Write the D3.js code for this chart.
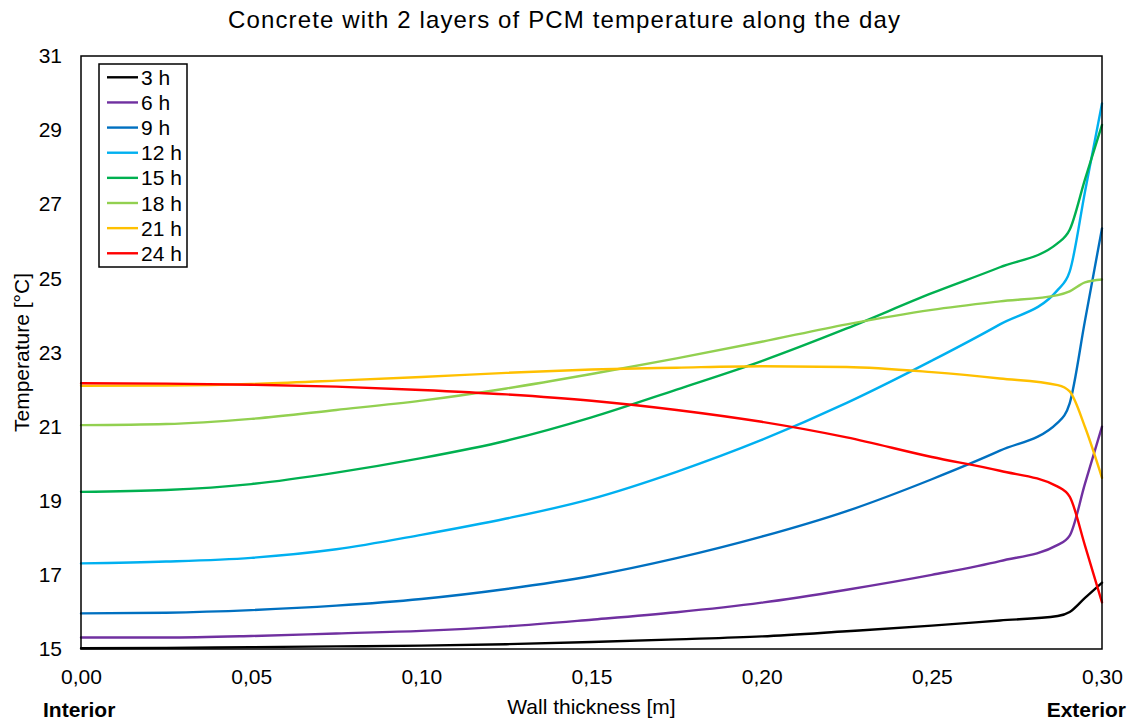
<!DOCTYPE html>
<html>
<head>
<meta charset="utf-8">
<script src="https://cdn.jsdelivr.net/npm/d3@7/dist/d3.min.js"></script>
<style>
  html, body { margin: 0; padding: 0; background: #fff; }
  svg { display: block; font-family: "Liberation Sans", Arial, sans-serif; }
</style>
</head>
<body>
<svg id="chart" width="1134" height="723"></svg>
<script>
// Wall position (m), from the interior face to the exterior face
const thickness = [0, 0.025, 0.05, 0.075, 0.10, 0.125, 0.15, 0.175, 0.20, 0.225, 0.25, 0.27, 0.287, 0.2905, 0.295, 0.30];

// Temperature profiles (°C) at each hour of the day
const t3h  = [15.02, 15.03, 15.05, 15.07, 15.09, 15.13, 15.19, 15.26, 15.34, 15.48, 15.63, 15.77, 15.89, 16.00, 16.38, 16.79];
const t6h  = [15.31, 15.31, 15.35, 15.42, 15.49, 15.61, 15.79, 15.99, 16.25, 16.60, 17.00, 17.37, 17.81, 18.06, 19.46, 21.00];
const t9h  = [15.96, 15.98, 16.05, 16.17, 16.35, 16.62, 16.97, 17.45, 18.03, 18.72, 19.58, 20.35, 21.11, 21.63, 23.86, 26.35];
const t12h = [17.31, 17.36, 17.46, 17.69, 18.08, 18.52, 19.05, 19.78, 20.64, 21.64, 22.78, 23.76, 24.69, 25.18, 27.34, 29.72];
const t15h = [19.24, 19.29, 19.45, 19.76, 20.15, 20.62, 21.25, 22.00, 22.77, 23.65, 24.60, 25.30, 25.95, 26.31, 27.67, 29.14];
const t18h = [21.04, 21.07, 21.21, 21.45, 21.70, 22.03, 22.42, 22.84, 23.29, 23.76, 24.15, 24.38, 24.55, 24.65, 24.89, 24.97];
const t21h = [22.10, 22.11, 22.15, 22.24, 22.34, 22.45, 22.54, 22.59, 22.63, 22.61, 22.47, 22.30, 22.12, 21.95, 20.99, 19.62];
const t24h = [22.17, 22.16, 22.13, 22.08, 21.99, 21.87, 21.70, 21.45, 21.13, 20.71, 20.18, 19.81, 19.38, 19.11, 17.79, 16.26];

const seriesNames  = ["3 h", "6 h", "9 h", "12 h", "15 h", "18 h", "21 h", "24 h"];
const seriesValues = [t3h, t6h, t9h, t12h, t15h, t18h, t21h, t24h];
const seriesColors = ["#000000", "#7030A0", "#0070C0", "#00B0F0", "#00B050", "#92D050", "#FFC000", "#FF0000"];

const xTicks = [0, 0.05, 0.10, 0.15, 0.20, 0.25, 0.30];
const yTicks = [15, 17, 19, 21, 23, 25, 27, 29, 31];

const titleText  = "Concrete with 2 layers of PCM temperature along the day";
const xTitleText = "Wall thickness [m]";
const yTitleText = "Temperature [°C]";
const leftLabel  = "Interior";
const rightLabel = "Exterior";

const svg = d3.select("#chart");
const plot = { left: 81, right: 1102, top: 56, bottom: 649 };

const x = d3.scaleLinear().domain([0, 0.30]).range([plot.left, plot.right]);
const y = d3.scaleLinear().domain([15, 31]).range([plot.bottom, plot.top]);

const comma = v => d3.format(".2f")(v).replace(".", ",");

// Axes: labels only, no tick marks
const xAxis = svg.append("g")
  .attr("transform", `translate(0,${plot.bottom})`)
  .call(d3.axisBottom(x).tickValues(xTicks).tickFormat(comma).tickSize(0).tickPadding(20));
const yAxis = svg.append("g")
  .attr("transform", `translate(${plot.left},0)`)
  .call(d3.axisLeft(y).tickValues(yTicks).tickFormat(d3.format("d")).tickSize(0).tickPadding(19));
[xAxis, yAxis].forEach(g => {
  g.select(".domain").remove();
  g.selectAll("text")
    .attr("fill", "#000")
    .style("font-size", "21px")
    .style("font-family", "'Liberation Sans', Arial, sans-serif");
});

// Temperature curves
const line = d3.line()
  .x((d, i) => x(thickness[i]))
  .y(d => y(d))
  .curve(d3.curveMonotoneX);

svg.append("g").selectAll("path")
  .data(seriesValues)
  .join("path")
  .attr("d", d => line(d))
  .attr("fill", "none")
  .attr("stroke", (d, i) => seriesColors[i])
  .attr("stroke-width", 2.4)
  .attr("stroke-linejoin", "round")
  .attr("stroke-linecap", "round");

// Plot frame
svg.append("rect")
  .attr("x", plot.left).attr("y", plot.top)
  .attr("width", plot.right - plot.left).attr("height", plot.bottom - plot.top)
  .attr("fill", "none").attr("stroke", "#000").attr("stroke-width", 1.5);

// Titles
svg.append("text")
  .attr("x", 564).attr("y", 28)
  .attr("text-anchor", "middle")
  .attr("textLength", 672).attr("lengthAdjust", "spacing")
  .style("font-size", "24px")
  .text(titleText);

svg.append("text")
  .attr("x", (plot.left + plot.right) / 2).attr("y", 714)
  .attr("text-anchor", "middle")
  .style("font-size", "21px")
  .text(xTitleText);

svg.append("text")
  .attr("transform", `translate(29,${(plot.top + plot.bottom) / 2}) rotate(-90)`)
  .attr("text-anchor", "middle")
  .style("font-size", "21px")
  .text(yTitleText);

svg.append("text")
  .attr("x", 43).attr("y", 717)
  .style("font-size", "21px").style("font-weight", "bold")
  .text(leftLabel);

svg.append("text")
  .attr("x", 1126).attr("y", 717)
  .attr("text-anchor", "end")
  .style("font-size", "21px").style("font-weight", "bold")
  .text(rightLabel);

// Legend
const legend = svg.append("g").attr("transform", "translate(99,64)");
legend.append("rect")
  .attr("width", 88).attr("height", 203)
  .attr("fill", "#fff").attr("stroke", "#000").attr("stroke-width", 1.5);
const rows = legend.selectAll("g.row")
  .data(seriesNames)
  .join("g")
  .attr("class", "row")
  .attr("transform", (d, i) => `translate(0,${13.3 + i * 25.14})`);
rows.append("line")
  .attr("x1", 8).attr("x2", 39)
  .attr("stroke", (d, i) => seriesColors[i])
  .attr("stroke-width", 2.4);
rows.append("text")
  .attr("x", 42).attr("y", 7.5)
  .style("font-size", "21px")
  .text(d => d);
</script>
</body>
</html>
